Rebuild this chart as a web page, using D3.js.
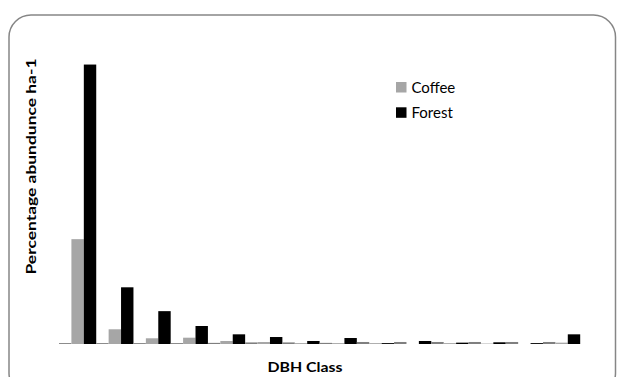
<!DOCTYPE html>
<html>
<head>
<meta charset="utf-8">
<script src="https://cdn.jsdelivr.net/npm/d3@7"></script>
<style>
  html, body { margin: 0; padding: 0; background: #fff; }
  svg { display: block; }
</style>
</head>
<body>
<svg id="chart" width="617" height="377"></svg>
<script>
// DBH classes (no tick labels are shown on the original chart)
const categories = ["1","2","3","4","5","6","7","8","9","10","11","12","13","14"];
// Unlabelled first series (not in legend) – tiny values hugging the baseline
const otherValues  = [0.2, 0.2, 0.2, 0.2, 0.25, 0.35, 0.35, 0.25, 0.45, 0.45, 0.45, 0.45, 0.45, 0.45];
const coffeeValues = [23.3, 3.27, 1.27, 1.4, 0.67, 0.44, 0.2, 0.2, 0.2, 0.0, 0.2, 0.1, 0.0, 0.3];
const forestValues = [62.1, 12.6, 7.3, 4.0, 2.15, 1.55, 0.67, 1.33, 0.2, 0.67, 0.3, 0.38, 0.2, 2.15];
const seriesNames  = ["", "Coffee", "Forest"];
const seriesColors = ["#7f7f7f", "#a6a6a6", "#000000"];
const legendSeries = ["Coffee", "Forest"];
const yTitle = "Percentage  abundunce ha-1";
const xTitle = "DBH Class";

const svg = d3.select("#chart");
const font = "Lato, 'Open Sans', 'DejaVu Sans', sans-serif";

// chart area border (rounded)
svg.append("rect")
  .attr("x", 9).attr("y", 15)
  .attr("width", 606.5).attr("height", 380)
  .attr("rx", 22).attr("ry", 22)
  .attr("fill", "#fff")
  .attr("stroke", "#868686")
  .attr("stroke-width", 1.5);

const plot = { left: 59, right: 580.2, top: 29, bottom: 344 };

const x = d3.scaleBand().domain(categories)
  .range([plot.left, plot.right]).paddingInner(0).paddingOuter(0);
const xs = d3.scaleBand().domain(seriesNames.map((d, i) => i))
  .range([0, x.bandwidth()]).padding(0);
const y = d3.scaleLinear().domain([0, 70]).range([plot.bottom, plot.top]);

const seriesData = [otherValues, coffeeValues, forestValues];

const rows = [];
categories.forEach((c, ci) => {
  seriesData.forEach((vals, si) => {
    rows.push({ cat: c, s: si, v: vals[ci] });
  });
});

svg.append("g").selectAll("rect")
  .data(rows)
  .join("rect")
  .attr("x", d => x(d.cat) + xs(d.s))
  .attr("y", d => y(d.v))
  .attr("width", xs.bandwidth())
  .attr("height", d => y(0) - y(d.v))
  .attr("fill", d => seriesColors[d.s]);

// Y axis title
svg.append("text")
  .attr("transform", `translate(36, 166.5) rotate(-90)`)
  .attr("text-anchor", "middle")
  .attr("font-family", font)
  .attr("font-weight", "bold")
  .attr("font-size", 14)
  .attr("textLength", 216)
  .attr("lengthAdjust", "spacingAndGlyphs")
  .attr("fill", "#000")
  .text(yTitle);

// X axis title
svg.append("text")
  .attr("x", 305).attr("y", 372)
  .attr("text-anchor", "middle")
  .attr("font-family", font)
  .attr("font-weight", "bold")
  .attr("font-size", 14)
  .attr("textLength", 75)
  .attr("lengthAdjust", "spacingAndGlyphs")
  .attr("fill", "#000")
  .text(xTitle);

// Legend
const legend = svg.append("g").attr("transform", "translate(396, 82)");
const lg = legend.selectAll("g").data(legendSeries).join("g")
  .attr("transform", (d, i) => `translate(0, ${i * 25.3})`);
lg.append("rect")
  .attr("width", 10.5).attr("height", 10.5)
  .attr("fill", d => seriesColors[seriesNames.indexOf(d)]);
lg.append("text")
  .attr("x", 15.5).attr("y", 11)
  .attr("font-family", font)
  .attr("font-size", 15)
  .attr("fill", "#000")
  .text(d => d);
</script>
</body>
</html>
